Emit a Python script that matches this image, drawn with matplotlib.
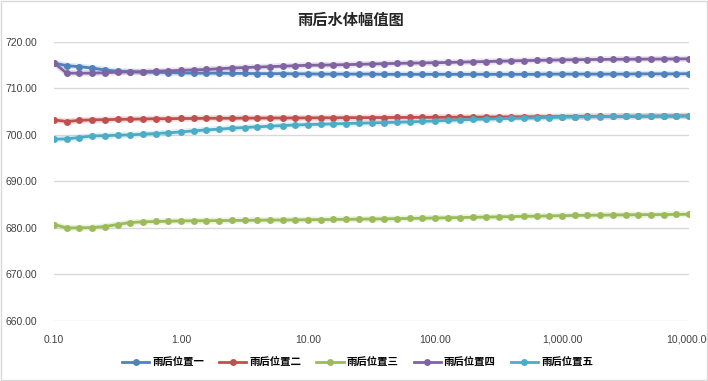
"""
雨后水体幅值图 - 五个位置的幅值随频率变化 (对数横轴)
"""

import numpy as np
import matplotlib
matplotlib.use("Agg")
import matplotlib.pyplot as plt
from matplotlib.ticker import FixedLocator, FuncFormatter, NullLocator
from matplotlib.patches import Rectangle

plt.rcParams['font.family'] = ['Noto Sans CJK SC', 'DejaVu Sans']

# 横轴：0.1 ~ 10000，每十倍程 10 个点
exponents = np.arange(51)
freq = 10.0 ** (-1 + exponents / 10.0)

# 各位置幅值
pos1 = [715.5, 714.9, 714.7, 714.4, 714.0, 713.7, 713.6, 713.5, 713.5, 713.4,
        713.35, 713.3, 713.3, 713.3, 713.25, 713.25, 713.2, 713.2, 713.2, 713.15,
        713.15, 713.1, 713.1, 713.1, 713.1, 713.1, 713.05, 713.05, 713.05, 713.05,
        713.05, 713.05, 713.05, 713.05, 713.05, 713.05, 713.05, 713.05, 713.05, 713.1,
        713.1, 713.1, 713.1, 713.1, 713.1, 713.1, 713.15, 713.15, 713.15, 713.15,
        713.2]
pos2 = [703.25, 702.9, 703.15, 703.25, 703.3, 703.35, 703.4, 703.45, 703.5, 703.5,
        703.55, 703.55, 703.6, 703.6, 703.6, 703.62, 703.63, 703.65, 703.65, 703.66,
        703.68, 703.7, 703.7, 703.72, 703.73, 703.75, 703.75, 703.77, 703.78, 703.8,
        703.8, 703.82, 703.83, 703.85, 703.86, 703.88, 703.9, 703.91, 703.92, 703.94,
        703.95, 703.97, 703.98, 704.0, 704.0, 704.02, 704.03, 704.05, 704.06, 704.08,
        704.1]
pos3 = [680.75, 680.03, 680.03, 680.1, 680.32, 680.75, 681.18, 681.32, 681.4, 681.46,
        681.53, 681.55, 681.57, 681.6, 681.62, 681.65, 681.67, 681.7, 681.72, 681.75,
        681.78, 681.8, 681.83, 681.86, 681.9, 681.93, 681.97, 682.01, 682.05, 682.1,
        682.15, 682.2, 682.25, 682.3, 682.35, 682.4, 682.45, 682.5, 682.55, 682.6,
        682.65, 682.7, 682.73, 682.76, 682.8, 682.83, 682.86, 682.88, 682.9, 682.92,
        682.95]
pos4 = [715.5, 713.3, 713.3, 713.3, 713.4, 713.5, 713.6, 713.6, 713.7, 713.8,
        713.9, 714.0, 714.1, 714.25, 714.4, 714.5, 714.6, 714.7, 714.8, 714.9,
        715.0, 715.02, 715.08, 715.13, 715.2, 715.27, 715.34, 715.4, 715.45, 715.5,
        715.55, 715.6, 715.67, 715.73, 715.8, 715.87, 715.93, 716.0, 716.05, 716.1,
        716.15, 716.19, 716.22, 716.25, 716.27, 716.3, 716.31, 716.33, 716.34, 716.36,
        716.38]
pos5 = [699.1, 699.17, 699.46, 699.8, 699.85, 699.96, 700.03, 700.17, 700.32, 700.46,
        700.67, 700.89, 701.1, 701.25, 701.46, 701.61, 701.75, 701.89, 702.04, 702.15,
        702.25, 702.32, 702.4, 702.47, 702.54, 702.61, 702.68, 702.75, 702.82, 702.92,
        703.02, 703.15, 703.25, 703.35, 703.42, 703.5, 703.57, 703.63, 703.7, 703.76,
        703.83, 703.88, 703.92, 703.96, 703.99, 704.02, 704.04, 704.06, 704.08, 704.1,
        704.11]

series_names = ['雨后位置一', '雨后位置二', '雨后位置三', '雨后位置四', '雨后位置五']
series_values = [pos1, pos2, pos3, pos4, pos5]
colors = ['#4F81BD', '#C0504D', '#9BBB59', '#8064A2', '#4BACC6']

x_ticks = [0.1, 1, 10, 100, 1000, 10000]
y_ticks = [660, 670, 680, 690, 700, 710, 720]

num_font = ['Liberation Sans Narrow', 'Liberation Sans', 'DejaVu Sans']

fig = plt.figure(figsize=(7.08, 3.81), dpi=100)
ax = fig.add_axes([54 / 708, 1 - 321 / 381, (689 - 54) / 708, (321 - 42) / 381])

for name, vals, col in zip(series_names, series_values, colors):
    # 浅色光晕，仿 Excel 线条效果
    ax.plot(freq, vals, color=col, linewidth=4.5, alpha=0.18,
            solid_capstyle='round', zorder=2)
    ax.plot(freq, vals, color=col, linewidth=2.0, marker='o', markersize=5,
            markeredgewidth=0, label=name, zorder=3)

ax.set_xscale('log')
ax.set_xlim(0.1, 10000)
ax.set_ylim(660, 720)
ax.xaxis.set_major_locator(FixedLocator(x_ticks))
ax.xaxis.set_minor_locator(NullLocator())
ax.yaxis.set_major_locator(FixedLocator(y_ticks))
ax.xaxis.set_major_formatter(FuncFormatter(lambda v, p: f"{v:,.2f}"))
ax.yaxis.set_major_formatter(FuncFormatter(lambda v, p: f"{v:.2f}"))

ax.grid(axis='y', color='#D9D9D9', linewidth=1.0, zorder=0)
ax.set_axisbelow(True)
for s in ax.spines.values():
    s.set_visible(False)
ax.tick_params(axis='both', length=0, labelsize=7.5, colors='#404040')
ax.tick_params(axis='x', pad=10)
ax.tick_params(axis='y', pad=12)
for lab in ax.get_xticklabels() + ax.get_yticklabels():
    lab.set_family(num_font)

fig.text(0.495, 1 - 20 / 381, '雨后水体幅值图', ha='center', va='center',
         fontsize=11, fontweight='bold', color='#262626')

fig.legend(loc='center', bbox_to_anchor=(0.505, 1 - 363 / 381), ncol=5,
           frameon=False, handlelength=2.6, columnspacing=1.45,
           handletextpad=0.3, prop={'family': ['Noto Sans CJK SC', 'DejaVu Sans'],
                                    'size': 7.5, 'weight': 'bold'})

# 图表外框
fig.patches.append(Rectangle((0.002, 0.003), 0.996, 0.994, transform=fig.transFigure,
                             fill=False, edgecolor='#D9D9D9', linewidth=1.0))

fig.savefig('out.png', dpi=100)
